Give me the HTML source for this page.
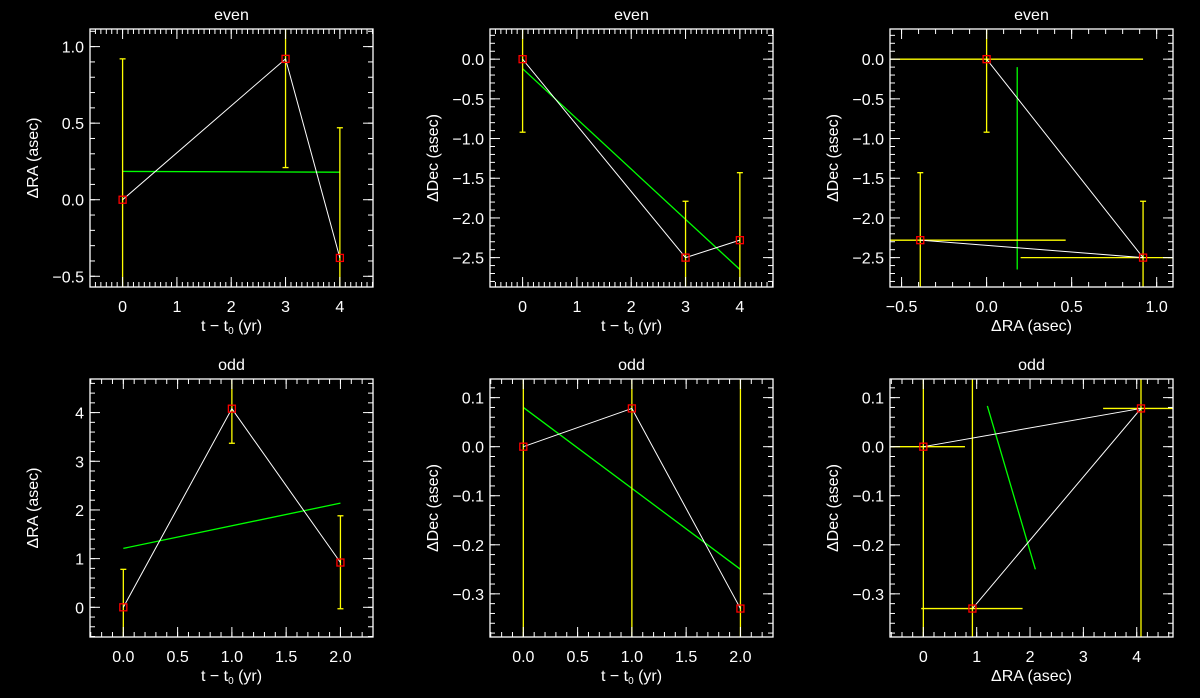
<!DOCTYPE html>
<html><head><meta charset="utf-8"><style>
html,body{margin:0;padding:0;background:#000;width:1200px;height:698px;overflow:hidden;}
svg{display:block;}
text{font-family:"Liberation Sans","DejaVu Sans",sans-serif;fill:#fff;font-size:16px;}
</style></head><body>
<svg id="fig" width="1200" height="698" viewBox="0 0 1200 698"></svg>
<script>
// ---- data per panel ----
const p1X=[0,3,4]; const p1Y=[0,0.92,-0.38]; const p1Lo=[-0.92,0.21,-1.23]; const p1Hi=[0.92,1.63,0.47]; const p1Fit=[0.185,0.18];
const p2X=[0,3,4]; const p2Y=[0,-2.5,-2.28]; const p2Lo=[-0.92,-3.21,-3.13]; const p2Hi=[0.92,-1.79,-1.43]; const p2Fit=[-0.12,-2.65];
const p3X=[0,0.92,-0.39]; const p3Y=[0,-2.5,-2.28]; const p3XLo=[-0.92,0.2,-1.25]; const p3XHi=[0.92,1.64,0.465]; const p3YLo=[-0.92,-3.21,-3.13]; const p3YHi=[0.92,-1.79,-1.43]; const p3FitX=[0.18,0.18]; const p3FitY=[-0.1,-2.65];
const p4X=[0,1,2]; const p4Y=[0,4.08,0.92]; const p4Lo=[-0.78,3.37,-0.03]; const p4Hi=[0.78,4.79,1.88]; const p4Fit=[1.21,2.14];
const p5X=[0,1,2]; const p5Y=[0,0.078,-0.33]; const p5Lo=[-1,-1,-1]; const p5Hi=[1,1,1]; const p5Fit=[0.08,-0.25];
const p6X=[0,0.92,4.08]; const p6Y=[0,-0.33,0.078]; const p6XLo=[-0.78,-0.04,3.37]; const p6XHi=[0.78,1.86,4.79]; const p6YLo=[-1,-1,-1]; const p6YHi=[1,1,1]; const p6FitX=[1.2,2.1]; const p6FitY=[0.083,-0.25];
const xTicks1=[0,1,2,3,4]; const yTicks1=[1.0,0.5,0.0,-0.5];
const yTicksDec=[0.0,-0.5,-1.0,-1.5,-2.0,-2.5]; const xTicks3=[-0.5,0.0,0.5,1.0];
const xTicks4=[0,0.5,1,1.5,2]; const yTicks4=[0,1,2,3,4];
const yTicks5=[0.1,0.0,-0.1,-0.2,-0.3]; const xTicks6=[0,1,2,3,4];

const NS="http://www.w3.org/2000/svg";
const svg=document.getElementById('fig');
function mk(tag,attrs,parent){const e=document.createElementNS(NS,tag);for(const k in attrs)e.setAttribute(k,attrs[k]);(parent||svg).appendChild(e);return e;}

function panel(o){
  const g=mk('g',{});
  
  
  const L=o.x0,R=o.x0+283,T=o.y0,B=o.y0+258;
  const sx=v=>L+(v-o.xr[0])/(o.xr[1]-o.xr[0])*(R-L);
  const sy=v=>B-(v-o.yr[0])/(o.yr[1]-o.yr[0])*(B-T);
  const cid='clip-'+o.name;
  const cp=mk('clipPath',{id:cid},g);mk('rect',{x:L,y:T,width:R-L,height:B-T},cp);
  const dg=mk('g',{'clip-path':'url(#'+cid+')'},g);
  const fit=mk('line',{x1:sx(o.fitX[0]),y1:sy(o.fitY[0]),x2:sx(o.fitX[1]),y2:sy(o.fitY[1]),stroke:'#00ff00','stroke-width':1.3},dg);
  
  
  const cap=3;
  for(let i=0;i<o.px.length;i++){
    if(o.yLo){
      const x=sx(o.px[i]),a=sy(o.yLo[i]),b=sy(o.yHi[i]);
      const e=mk('line',{x1:x,y1:a,x2:x,y2:b,stroke:'#ffff00','stroke-width':1.3},dg);
      
      
      if(o.caps){mk('line',{x1:x-cap,y1:a,x2:x+cap,y2:a,stroke:'#ffff00','stroke-width':1.3},dg);mk('line',{x1:x-cap,y1:b,x2:x+cap,y2:b,stroke:'#ffff00','stroke-width':1.3},dg);}
    }
    if(o.xLo){
      const y=sy(o.py[i]),a=sx(o.xLo[i]),b=sx(o.xHi[i]);
      const e=mk('line',{x1:a,y1:y,x2:b,y2:y,stroke:'#ffff00','stroke-width':1.3},dg);
      
      
    }
  }
  const pts=o.order.map(i=>sx(o.px[i])+','+sy(o.py[i])).join(' ');
  const pl=mk('polyline',{points:pts,fill:'none',stroke:'#fff','stroke-width':1},dg);
  
  
  for(let i=0;i<o.px.length;i++){
    const m=mk('rect',{x:sx(o.px[i])-3.5,y:sy(o.py[i])-3.5,width:7,height:7,fill:'none',stroke:'#ff0000','stroke-width':1.3},dg);
    
    
  }
  const fr=mk('rect',{x:L,y:T,width:R-L,height:B-T,fill:'none',stroke:'#fff','stroke-width':1.3},g);
  
  
  const tk=(x1,y1,x2,y2)=>mk('line',{x1,y1,x2,y2,stroke:'#fff','stroke-width':1},g);
  const eps=1e-9;
  let s=Math.ceil((o.xr[0]-eps)/o.xm)*o.xm;
  for(let v=s;v<=o.xr[1]+eps;v+=o.xm){const x=sx(v);tk(x,B,x,B-5);tk(x,T,x,T+5);}
  s=Math.ceil((o.yr[0]-eps)/o.ym)*o.ym;
  for(let v=s;v<=o.yr[1]+eps;v+=o.ym){const y=sy(v);tk(L,y,L+5,y);tk(R,y,R-5,y);}
  o.xt.forEach((v,i)=>{const x=sx(v);tk(x,B,x,B-10);tk(x,T,x,T+10);
    const t=mk('text',{x:x,y:B+25,'text-anchor':'middle'},g);t.textContent=o.xl[i];
    
    });
  o.yt.forEach((v,i)=>{const y=sy(v);tk(L,y,L+10,y);tk(R,y,R-10,y);
    const t=mk('text',{x:L-6,y:y+6,'text-anchor':'end'},g);t.textContent=o.yl[i];
    
    });
  const ti=mk('text',{x:(L+R)/2,y:T-9,'text-anchor':'middle'},g);ti.textContent=o.title;
  
  
  const xt=mk('text',{x:(L+R)/2,y:B+44,'text-anchor':'middle'},g);
  if(o.xtitle==='t'){xt.innerHTML='t − t<tspan font-size="10" dy="3">0</tspan><tspan dy="-3"> (yr)</tspan>';}else xt.textContent=o.xtitle;
  
  
  const yt=mk('text',{x:L-52,y:(T+B)/2,'text-anchor':'middle',transform:'rotate(-90 '+(L-52)+' '+((T+B)/2)+')'},g);
  yt.textContent=o.ytitle;
  
  
}
const fmt1=a=>a.map(v=>v.toFixed(1).replace('-','−'));
const fmt0=a=>a.map(v=>String(v).replace('-','−'));
panel({name:'panel-even-ra-time',x0:90,y0:29,xr:[-0.6,4.61],yr:[-0.57,1.115],px:p1X,py:p1Y,yLo:p1Lo,yHi:p1Hi,caps:true,fitX:[0,4],fitY:p1Fit,order:[0,1,2],xt:xTicks1,xl:fmt0(xTicks1),yt:yTicks1,yl:fmt1(yTicks1),xm:0.1,ym:0.1,title:'even',xtitle:'t',ytitle:'ΔRA (asec)'});
panel({name:'panel-even-dec-time',x0:490,y0:29,xr:[-0.6,4.61],yr:[-2.87,0.38],px:p2X,py:p2Y,yLo:p2Lo,yHi:p2Hi,caps:true,fitX:[0,4],fitY:p2Fit,order:[0,1,2],xt:xTicks1,xl:fmt0(xTicks1),yt:yTicksDec,yl:fmt1(yTicksDec),xm:0.1,ym:0.1,title:'even',xtitle:'t',ytitle:'ΔDec (asec)'});
panel({name:'panel-even-dec-ra',x0:890,y0:29,xr:[-0.568,1.096],yr:[-2.87,0.38],px:p3X,py:p3Y,yLo:p3YLo,yHi:p3YHi,xLo:p3XLo,xHi:p3XHi,caps:true,fitX:p3FitX,fitY:p3FitY,order:[0,1,2],xt:xTicks3,xl:fmt1(xTicks3),yt:yTicksDec,yl:fmt1(yTicksDec),xm:0.1,ym:0.1,title:'even',xtitle:'ΔRA (asec)',ytitle:'ΔDec (asec)'});
panel({name:'panel-odd-ra-time',x0:90,y0:379,xr:[-0.307,2.30],yr:[-0.61,4.69],px:p4X,py:p4Y,yLo:p4Lo,yHi:p4Hi,caps:true,fitX:[0,2],fitY:p4Fit,order:[0,1,2],xt:xTicks4,xl:fmt1(xTicks4),yt:yTicks4,yl:fmt0(yTicks4),xm:0.1,ym:0.2,title:'odd',xtitle:'t',ytitle:'ΔRA (asec)'});
panel({name:'panel-odd-dec-time',x0:490,y0:379,xr:[-0.307,2.30],yr:[-0.388,0.138],px:p5X,py:p5Y,yLo:p5Lo,yHi:p5Hi,caps:false,fitX:[0,2],fitY:p5Fit,order:[0,1,2],xt:xTicks4,xl:fmt1(xTicks4),yt:yTicks5,yl:fmt1(yTicks5),xm:0.1,ym:0.02,title:'odd',xtitle:'t',ytitle:'ΔDec (asec)'});
panel({name:'panel-odd-dec-ra',x0:890,y0:379,xr:[-0.625,4.68],yr:[-0.388,0.138],px:p6X,py:p6Y,yLo:p6YLo,yHi:p6YHi,xLo:p6XLo,xHi:p6XHi,caps:false,fitX:p6FitX,fitY:p6FitY,order:[0,2,1],xt:xTicks6,xl:fmt0(xTicks6),yt:yTicks5,yl:fmt1(yTicks5),xm:0.2,ym:0.02,title:'odd',xtitle:'ΔRA (asec)',ytitle:'ΔDec (asec)'});
</script>
</body></html>
